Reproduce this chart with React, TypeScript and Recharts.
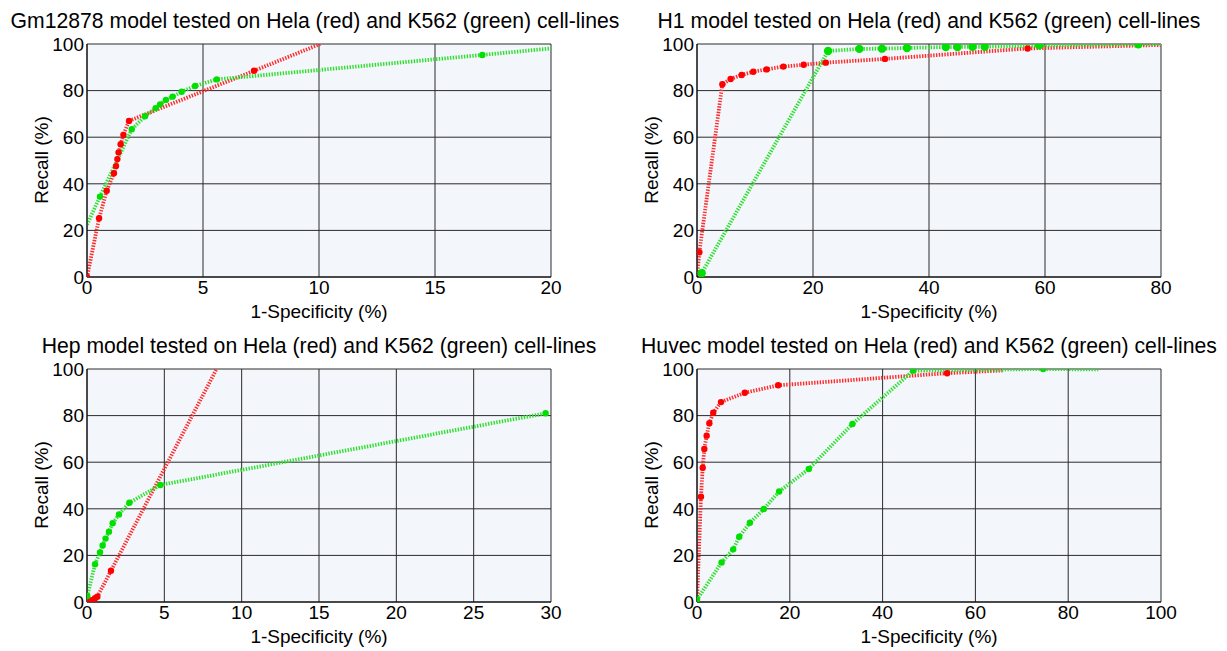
import React from 'react';
import { ComposedChart, Line, Scatter, XAxis, YAxis, CartesianGrid } from 'recharts';

type P = { x: number; y: number };

const FONT = '"Liberation Sans", Arial, Helvetica, sans-serif';
const RED_LINE = '#ff2a2a';
const RED_DOT = '#ff0000';
const GREEN_LINE = '#2ee02e';
const GREEN_DOT = '#00e000';

const xLabel = '1-Specificity (%)';
const yLabel = 'Recall (%)';
const recallTicks = [0, 20, 40, 60, 80, 100];

// ---- Gm12878 model ----
const gmTitle = 'Gm12878 model tested on Hela (red) and K562 (green) cell-lines';
const gmXTicks = [0, 5, 10, 15, 20];
const gmHelaStart: P[] = [];
const gmHelaDots: P[] = [
  { x: 0, y: 0 }, { x: 0.52, y: 25.2 }, { x: 0.85, y: 37 }, { x: 1.16, y: 44.5 },
  { x: 1.25, y: 47.6 }, { x: 1.31, y: 50.6 }, { x: 1.36, y: 53.5 }, { x: 1.45, y: 57 },
  { x: 1.57, y: 61 }, { x: 1.81, y: 67 }, { x: 7.2, y: 88.5 },
];
const gmHelaEnd: P[] = [{ x: 10.05, y: 100 }];
const gmK562Start: P[] = [{ x: 0, y: 22.5 }];
const gmK562Dots: P[] = [
  { x: 0.56, y: 34.5 }, { x: 1.93, y: 63.4 }, { x: 2.5, y: 69 }, { x: 2.96, y: 72.5 },
  { x: 3.15, y: 74.1 }, { x: 3.4, y: 76 }, { x: 3.69, y: 77.4 }, { x: 4.08, y: 79.5 },
  { x: 4.66, y: 82 }, { x: 5.59, y: 84.8 }, { x: 17.04, y: 95.3 },
];
const gmK562End: P[] = [{ x: 20, y: 98.1 }];

// ---- H1 model ----
const h1Title = 'H1 model tested on Hela (red) and K562 (green) cell-lines';
const h1XTicks = [0, 20, 40, 60, 80];
const h1HelaStart: P[] = [{ x: 0, y: 0 }];
const h1HelaDots: P[] = [
  { x: 0.4, y: 10.6 }, { x: 4.37, y: 82.7 }, { x: 5.8, y: 85 }, { x: 7.7, y: 86.7 },
  { x: 9.7, y: 88.1 }, { x: 12.0, y: 89.1 }, { x: 14.9, y: 90.3 }, { x: 18.4, y: 91.1 },
  { x: 22.2, y: 92.0 }, { x: 32.4, y: 93.6 }, { x: 57.0, y: 98.1 },
];
const h1HelaEnd: P[] = [{ x: 80, y: 99.6 }];
const h1K562Start: P[] = [];
const h1K562Dots: P[] = [
  { x: 0.8, y: 1.6 }, { x: 22.6, y: 97 }, { x: 28.0, y: 97.9 }, { x: 31.9, y: 98 },
  { x: 36.2, y: 98.3 }, { x: 42.9, y: 98.7 }, { x: 44.9, y: 98.7 }, { x: 47.5, y: 98.8 },
  { x: 49.6, y: 98.8 }, { x: 59.0, y: 99.4 }, { x: 76.1, y: 99.9 },
];
const h1K562End: P[] = [{ x: 80, y: 100 }];

// ---- Hep model ----
const hepTitle = 'Hep model tested on Hela (red) and K562 (green) cell-lines';
const hepXTicks = [0, 5, 10, 15, 20, 25, 30];
const hepHelaStart: P[] = [];
const hepHelaDots: P[] = [
  { x: 0, y: 0.3 }, { x: 0.3, y: 0.8 }, { x: 0.52, y: 1.6 }, { x: 0.67, y: 2.3 }, { x: 1.55, y: 13.4 },
];
const hepHelaEnd: P[] = [{ x: 8.38, y: 100 }];
const hepK562Start: P[] = [{ x: 0, y: 0 }];
const hepK562Dots: P[] = [
  { x: 0.02, y: 2.6 }, { x: 0.52, y: 16.2 }, { x: 0.84, y: 21.3 }, { x: 1.01, y: 24.3 },
  { x: 1.2, y: 27.2 }, { x: 1.42, y: 30.2 }, { x: 1.66, y: 33.8 }, { x: 2.07, y: 37.6 },
  { x: 2.74, y: 42.6 }, { x: 4.74, y: 50.2 }, { x: 29.65, y: 81 },
];
const hepK562End: P[] = [];

// ---- Huvec model ----
const huvecTitle = 'Huvec model tested on Hela (red) and K562 (green) cell-lines';
const huvecXTicks = [0, 20, 40, 60, 80, 100];
const huvecHelaStart: P[] = [{ x: 0, y: 0 }];
const huvecHelaDots: P[] = [
  { x: 0.86, y: 45.2 }, { x: 1.23, y: 57.6 }, { x: 1.58, y: 65.7 }, { x: 2.08, y: 71.4 },
  { x: 2.66, y: 76.7 }, { x: 3.5, y: 81.2 }, { x: 5.17, y: 85.8 }, { x: 10.3, y: 89.8 },
  { x: 17.5, y: 93 }, { x: 53.9, y: 98.2 },
];
const huvecHelaEnd: P[] = [{ x: 66, y: 99.4 }];
const huvecK562Start: P[] = [];
const huvecK562Dots: P[] = [
  { x: 0, y: 1 }, { x: 5.3, y: 17 }, { x: 7.8, y: 22.6 }, { x: 9.1, y: 28 },
  { x: 11.4, y: 34 }, { x: 14.4, y: 39.9 }, { x: 17.7, y: 47.4 }, { x: 24.1, y: 57.1 },
  { x: 33.5, y: 76.4 }, { x: 46.6, y: 99.3 }, { x: 74.6, y: 100 },
];
const huvecK562End: P[] = [{ x: 86.5, y: 99.8 }];

type Series = { start: P[]; dots: P[]; end: P[] };
type PanelCfg = {
  title: string;
  xTicks: number[];
  red: Series;
  green: Series;
  left: number;
  top: number;
  titleX: number;
  redR: number;
  greenR: number;
};

const panels: PanelCfg[] = [
  {
    title: gmTitle, xTicks: gmXTicks,
    red: { start: gmHelaStart, dots: gmHelaDots, end: gmHelaEnd },
    green: { start: gmK562Start, dots: gmK562Dots, end: gmK562End },
    left: 0, top: 0, titleX: 315, redR: 3.2, greenR: 3.2,
  },
  {
    title: h1Title, xTicks: h1XTicks,
    red: { start: h1HelaStart, dots: h1HelaDots, end: h1HelaEnd },
    green: { start: h1K562Start, dots: h1K562Dots, end: h1K562End },
    left: 610, top: 0, titleX: 929, redR: 3.2, greenR: 4.2,
  },
  {
    title: hepTitle, xTicks: hepXTicks,
    red: { start: hepHelaStart, dots: hepHelaDots, end: hepHelaEnd },
    green: { start: hepK562Start, dots: hepK562Dots, end: hepK562End },
    left: 0, top: 325, titleX: 319, redR: 3.2, greenR: 3.2,
  },
  {
    title: huvecTitle, xTicks: huvecXTicks,
    red: { start: huvecHelaStart, dots: huvecHelaDots, end: huvecHelaEnd },
    green: { start: huvecK562Start, dots: huvecK562Dots, end: huvecK562End },
    left: 610, top: 325, titleX: 929, redR: 3.2, greenR: 3.2,
  },
];

const CH_W = 600;
const CH_H = 330;
const PLOT_L = 87;
const PLOT_R = 551;
const PLOT_T = 44;
const PLOT_B = 277;

const dotShape = (r: number, color: string) => (props: any) => (
  <circle cx={props.cx} cy={props.cy} r={r} fill={color} stroke="none" />
);

function Panel({ cfg }: { cfg: PanelCfg }) {
  const xMax = cfg.xTicks[cfg.xTicks.length - 1];
  const redLine = [...cfg.red.start, ...cfg.red.dots, ...cfg.red.end];
  const greenLine = [...cfg.green.start, ...cfg.green.dots, ...cfg.green.end];
  const tickStyle = { fontSize: 19, fill: '#000', fontFamily: FONT };
  return (
    <div style={{ position: 'absolute', left: cfg.left, top: cfg.top, width: CH_W, height: CH_H }}>
      <ComposedChart
        width={CH_W}
        height={CH_H}
        margin={{ top: PLOT_T, left: 0, right: CH_W - PLOT_R, bottom: 0 }}
      >
        <CartesianGrid stroke="#2b2b2b" strokeWidth={1} fill="#f3f6fb" fillOpacity={1} />
        <XAxis
          type="number"
          dataKey="x"
          domain={[0, xMax]}
          ticks={cfg.xTicks}
          interval={0}
          allowDataOverflow
          height={CH_H - PLOT_B}
          tickSize={0}
          tickMargin={4}
          tickLine={false}
          axisLine={{ stroke: '#000' }}
          tick={tickStyle}
        />
        <YAxis
          type="number"
          dataKey="y"
          domain={[0, 100]}
          ticks={recallTicks}
          interval={0}
          allowDataOverflow
          width={PLOT_L}
          tickSize={0}
          tickMargin={3}
          tickLine={false}
          axisLine={{ stroke: '#000' }}
          tick={tickStyle}
        />
        <Line
          data={redLine}
          dataKey="y"
          type="linear"
          stroke={RED_LINE}
          strokeWidth={3.8}
          strokeDasharray="1.4 1.4"
          dot={false}
          activeDot={false}
          isAnimationActive={false}
        />
        <Line
          data={greenLine}
          dataKey="y"
          type="linear"
          stroke={GREEN_LINE}
          strokeWidth={3.8}
          strokeDasharray="1.4 1.4"
          dot={false}
          activeDot={false}
          isAnimationActive={false}
        />
        <Scatter
          data={cfg.red.dots}
          dataKey="y"
          shape={dotShape(cfg.redR, RED_DOT)}
          isAnimationActive={false}
        />
        <Scatter
          data={cfg.green.dots}
          dataKey="y"
          shape={dotShape(cfg.greenR, GREEN_DOT)}
          isAnimationActive={false}
        />
      </ComposedChart>
      <div
        style={{
          position: 'absolute', left: cfg.titleX - cfg.left, top: 21,
          transform: 'translate(-50%, -50%)', whiteSpace: 'nowrap',
          fontFamily: FONT, fontSize: 21.2, color: '#000',
        }}
      >
        {cfg.title}
      </div>
      <div
        style={{
          position: 'absolute', left: 319, top: 312,
          transform: 'translate(-50%, -50%)', whiteSpace: 'nowrap',
          fontFamily: FONT, fontSize: 19, color: '#000',
        }}
      >
        {xLabel}
      </div>
      <div
        style={{
          position: 'absolute', left: 42, top: 160,
          transform: 'translate(-50%, -50%) rotate(-90deg)', whiteSpace: 'nowrap',
          fontFamily: FONT, fontSize: 19, color: '#000',
        }}
      >
        {yLabel}
      </div>
    </div>
  );
}

export default function App() {
  return (
    <div style={{ position: 'absolute', left: 0, top: 0, width: 1227, height: 651, background: '#fff', overflow: 'hidden' }}>
      {panels.map((p, i) => (
        <Panel key={i} cfg={p} />
      ))}
    </div>
  );
}
